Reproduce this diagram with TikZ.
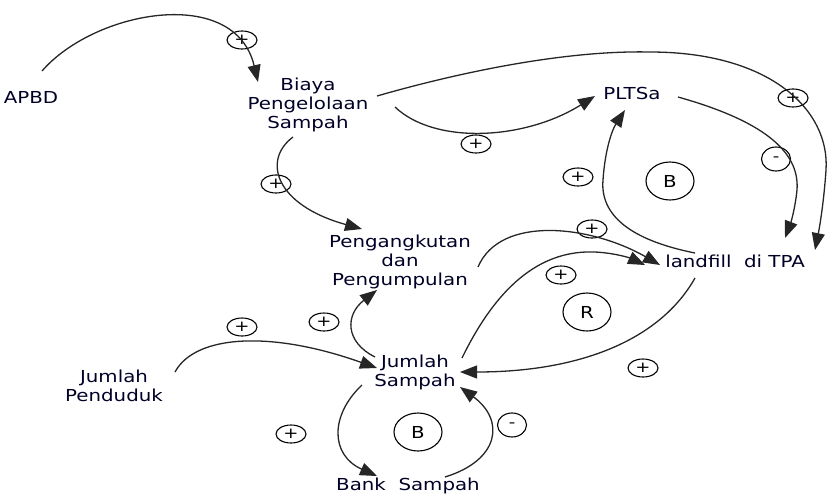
\documentclass[tikz,border=0pt]{standalone}
\usepackage{fontspec}
\setmainfont{DejaVu Sans}[FakeStretch=1.2]
\usetikzlibrary{arrows.meta,shapes.geometric,calc}
\begin{document}
\begin{tikzpicture}[x=1pt,y=-1pt,
  lbl/.style={font=\fontsize{16.5}{19}\selectfont, align=center, inner sep=0pt, text=black!85!blue},
  link/.style={line width=1.3pt, draw=black!85, -{Triangle[length=17pt,width=13pt]}},
  pol/.style={draw, ellipse, line width=1.1pt, minimum width=30pt, minimum height=18pt, inner sep=0pt, font=\fontsize{15}{15}\selectfont},
  neg/.style={pol, minimum width=29pt, minimum height=24pt},
  loopm/.style={draw, ellipse, line width=1.1pt, minimum width=48pt, minimum height=38pt, inner sep=0pt, font=\fontsize{16.5}{19}\selectfont}]
\useasboundingbox (0,0) rectangle (835,496);
% variables
\node[lbl] (apbd) at (31,97) {APBD};
\node[lbl] (biaya) at (308,105) {Biaya\\Pengelolaan\\Sampah};
\node[lbl] (pltsa) at (632,93) {PLTSa};
\node[lbl] (landfill) at (735,261) {landfill\ \ di TPA};
\node[lbl] (angkut) at (400,262) {Pengangkutan\\dan\\Pengumpulan};
\node[lbl] (js) at (415,372) {Jumlah\\Sampah};
\node[lbl] (jp) at (114,386) {Jumlah\\Penduduk};
\node[lbl] (bank) at (408,486) {Bank\ \ Sampah};
% polarity markers
\node[pol] (p1) at (242,40) {+};
\node[pol] (p2) at (276,184) {+};
\node[pol] (p3) at (476,144) {+};
\node[pol] (p4) at (793,98) {+};
\node[neg] (m1) at (776,159) {-};
\node[pol] (p5) at (578,177) {+};
\node[pol] (p6) at (592,229) {+};
\node[pol] (p7) at (561,275) {+};
\node[pol] (p8) at (643,368) {+};
\node[pol] (p9) at (242,327) {+};
\node[pol] (p10) at (324,322) {+};
\node[pol] (p11) at (291,434) {+};
\node[neg] (m2) at (512,425) {-};
% loop markers
\node[loopm] (l1) at (670,181) {B};
\node[loopm] (l2) at (587,312) {R};
\node[loopm] (l3) at (418,432) {B};
% links
\draw[link] ($(apbd)+(11,-26)$) .. controls (95,10) and (235,-15) .. ($(biaya)+(-50,-23)$);
\draw[link] ($(biaya)+(-15,32)$) .. controls (262,160) and (275,205) .. ($(angkut)+(-38,-33)$);
\draw[link] ($(biaya)+(87,2)$) .. controls (435,145) and (525,140) .. ($(pltsa)+(-37,3)$);
\draw[link] ($(biaya)+(69,-9)$) .. controls (450,75) and (560,50) .. (650,52)
  .. controls (770,52) and (830,110) .. (826,170)
  .. controls (824,200) and (820,225) .. ($(landfill)+(80,-11)$);
\draw[link] ($(pltsa)+(46,4)$) .. controls (760,120) and (800,150) .. (797,190)
  .. controls (795,210) and (790,225) .. ($(landfill)+(50,-23)$);
\draw[link] ($(landfill)+(-40,-8)$) .. controls (630,240) and (600,215) .. (603,180)
  .. controls (605,150) and (612,130) .. ($(pltsa)+(-7,17)$);
\draw[link] ($(angkut)+(78,5)$) .. controls (500,215) and (590,225) .. ($(landfill)+(-75,4)$);
\draw[link] ($(js)+(47,-14)$) .. controls (500,280) and (545,250) .. (595,252)
  .. controls (615,253) and (630,258) .. ($(landfill)+(-90,4)$);
\draw[link] ($(landfill)+(-40,17)$) .. controls (660,340) and (580,372) .. ($(js)+(45,0)$);
\draw[link] ($(jp)+(61,-14)$) .. controls (195,335) and (270,330) .. ($(js)+(-38,-4)$);
\draw[link] ($(js)+(-40,-15)$) .. controls (345,342) and (345,315) .. ($(angkut)+(-23,28)$);
\draw[link] ($(js)+(-53,13)$) .. controls (330,415) and (330,455) .. ($(bank)+(-31,-10)$);
\draw[link] ($(bank)+(37,-9)$) .. controls (500,460) and (505,420) .. ($(js)+(45,15)$);
\end{tikzpicture}
\end{document}
